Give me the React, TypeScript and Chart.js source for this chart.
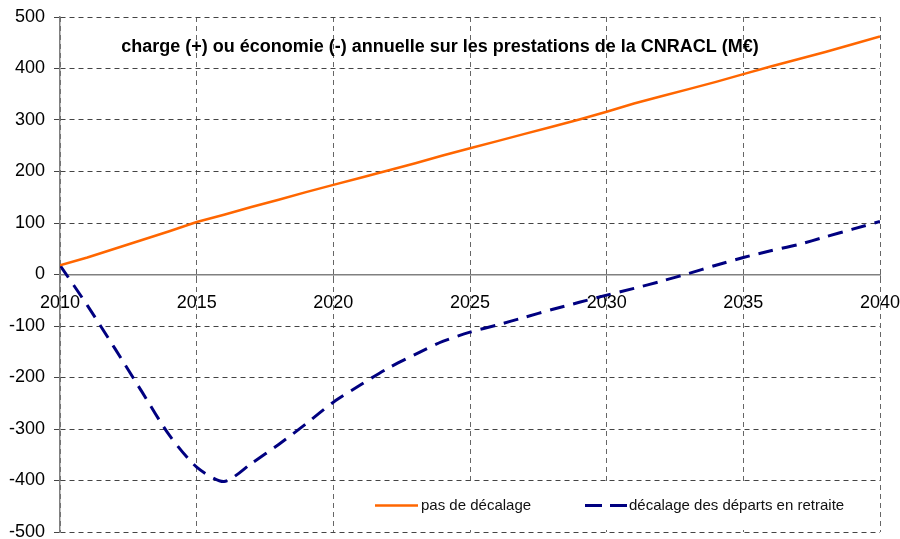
import React, { useEffect, useRef } from "react";
import { Chart, registerables } from "chart.js";

Chart.register(...registerables);

const years = [
  2010, 2011, 2012, 2013, 2014, 2015, 2016, 2017, 2018, 2019, 2020, 2021, 2022, 2023, 2024, 2025,
  2026, 2027, 2028, 2029, 2030, 2031, 2032, 2033, 2034, 2035, 2036, 2037, 2038, 2039, 2040,
];
const noShift = [
  18, 33, 50, 67, 84, 102, 116, 131, 145, 160, 174, 188, 202, 216, 231, 245, 259, 273, 287, 301,
  316, 332, 346, 360, 374, 389, 404, 418, 432, 447, 462,
];
const withShift = [
  18, -60, -143, -228, -312, -374, -402, -367, -330, -290, -248, -214, -182, -155, -130, -112, -98,
  -83, -68, -54, -40, -27, -13, 2, 18, 33, 46, 58, 73, 88, 103,
];
const seriesLabels = ["pas de décalage", "décalage des départs en retraite"];
const chartTitle = "charge (+) ou économie (-) annuelle sur les prestations de la CNRACL (M€)";

const FONT = '"Liberation Sans", Arial, sans-serif';
const ORANGE = "#FF6600";
const NAVY = "#000080";

const overlayPlugin = {
  id: "overlay",
  beforeDatasetsDraw(chart: any) {
    const { ctx, chartArea } = chart;
    const ys = chart.scales.y;
    ctx.save();
    // legend box (white, hides vertical grid lines)
    const top = ys.getPixelForValue(-400) + 4;
    const bottom = ys.getPixelForValue(-500) - 2;
    const left = chartArea.left + 305;
    const right = chartArea.left + 797;
    ctx.fillStyle = "#ffffff";
    ctx.fillRect(left, top, right - left, bottom - top);
    const cy = ys.getPixelForValue(-400) + 25;
    // item 1
    ctx.strokeStyle = ORANGE;
    ctx.lineWidth = 2.5;
    ctx.setLineDash([]);
    ctx.beginPath();
    ctx.moveTo(chartArea.left + 315, cy);
    ctx.lineTo(chartArea.left + 358, cy);
    ctx.stroke();
    ctx.fillStyle = "#111";
    ctx.font = `15px ${FONT}`;
    ctx.textAlign = "left";
    ctx.textBaseline = "middle";
    ctx.fillText(seriesLabels[0], chartArea.left + 361, cy);
    // item 2
    ctx.strokeStyle = NAVY;
    ctx.lineWidth = 3;
    ctx.setLineDash([17, 8]);
    ctx.beginPath();
    ctx.moveTo(chartArea.left + 525, cy);
    ctx.lineTo(chartArea.left + 567, cy);
    ctx.stroke();
    ctx.setLineDash([]);
    ctx.fillText(seriesLabels[1], chartArea.left + 569, cy);
    // title
    ctx.font = `bold 18px ${FONT}`;
    ctx.textAlign = "center";
    ctx.fillStyle = "#000";
    ctx.fillText(chartTitle, chartArea.left + 380, chartArea.top + 30, 646);
    ctx.restore();
  },
};

export default function App() {
  const canvasRef = useRef<HTMLCanvasElement | null>(null);

  useEffect(() => {
    document.body.style.margin = "0";
    const canvas = canvasRef.current;
    if (!canvas) return;
    const chart = new Chart(canvas, {
      type: "line",
      data: {
        datasets: [
          {
            label: seriesLabels[0],
            data: years.map((y, i) => ({ x: y, y: noShift[i] })),
            borderColor: ORANGE,
            borderWidth: 2.5,
            pointRadius: 0,
            tension: 0,
            fill: false,
          },
          {
            label: seriesLabels[1],
            data: years.map((y, i) => ({ x: y, y: withShift[i] })),
            borderColor: NAVY,
            borderWidth: 3,
            borderDash: [15, 9],
            pointRadius: 0,
            tension: 0.25,
            fill: false,
          },
        ],
      },
      options: {
        animation: false,
        responsive: true,
        maintainAspectRatio: false,
        layout: { padding: { left: 0, right: 20, top: 17, bottom: 7 } },
        plugins: {
          legend: { display: false },
          title: { display: false },
          tooltip: { enabled: false },
        },
        scales: {
          x: {
            type: "linear",
            position: { y: 0 } as any,
            min: 2010,
            max: 2040,
            ticks: {
              stepSize: 5,
              color: "#000",
              font: { family: FONT, size: 18 },
              padding: 12,
              maxRotation: 0,
              callback: (v: any) => String(v),
            },
            grid: {
              color: "#666",
              lineWidth: 1,
              tickLength: 6,
              tickBorderDash: [5, 4],
            },
            border: { display: true, color: "#808080", width: 1.5, dash: [5, 4] },
            afterFit: (scale: any) => {
              scale.paddingLeft = 0;
              scale.paddingRight = 0;
            },
          },
          y: {
            type: "linear",
            min: -500,
            max: 500,
            ticks: {
              stepSize: 100,
              color: "#000",
              font: { family: FONT, size: 18 },
              padding: 9,
            },
            grid: {
              color: "#444",
              lineWidth: 1,
              tickLength: 6,
              tickBorderDash: [5, 4],
            },
            border: { display: true, color: "#808080", width: 1.5, dash: [5, 4] },
            afterFit: (scale: any) => {
              scale.width = 60;
              scale.paddingTop = 0;
              scale.paddingBottom = 0;
            },
          },
        },
      },
      plugins: [overlayPlugin],
    });
    return () => chart.destroy();
  }, []);

  return (
    <div style={{ position: "relative", width: 900, height: 539, background: "#fff" }}>
      <canvas ref={canvasRef} />
    </div>
  );
}
